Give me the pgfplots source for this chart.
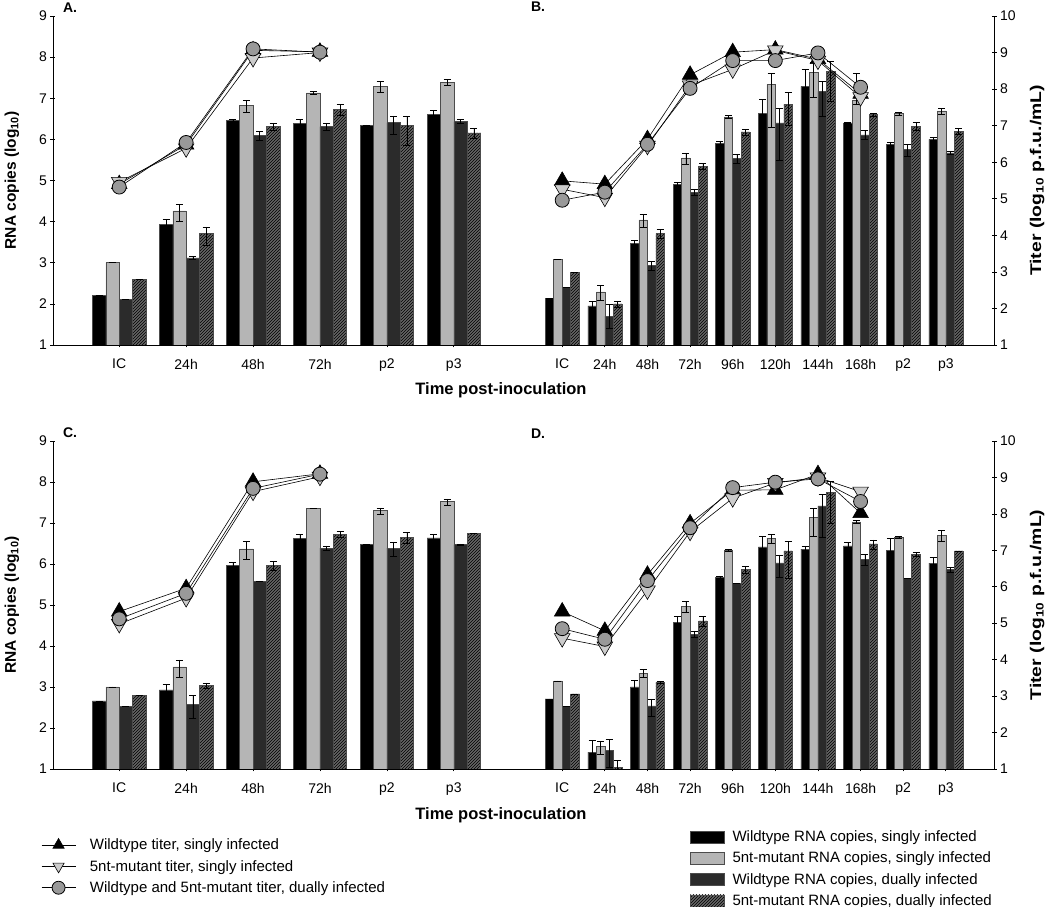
\documentclass[border=0pt]{standalone}
\usepackage{pgfplots}
\pgfplotsset{compat=1.18}
\usepackage{pgfplotstable}
\usetikzlibrary{patterns}
\usepackage{fontspec}
\setmainfont{Liberation Sans}

\definecolor{lgray}{gray}{0.71}
\definecolor{dgray}{gray}{0.17}
\definecolor{hgray}{gray}{0.40}
\definecolor{circgray}{gray}{0.60}
\definecolor{trigray}{gray}{0.80}

% RNA copies (log10): value, upper error, lower error for each bar series
\pgfplotstableread{
x wy wp wm my mp mm dy dp dm hy hp hm
0 2.21 0 0 3.00 0 0 2.11 0 0 2.60 0 0
1 3.94 0.11 0.11 4.26 0.16 0.26 3.12 0.03 0.03 3.71 0.16 0.28
2 6.47 0.02 0.02 6.82 0.13 0.15 6.10 0.10 0.12 6.31 0.08 0.09
3 6.38 0.10 0.12 7.13 0.03 0.03 6.31 0.08 0.09 6.73 0.13 0.15
4 6.34 0.01 0.01 7.28 0.12 0.14 6.41 0.16 0.29 6.34 0.23 0.48
5 6.61 0.10 0.12 7.39 0.07 0.08 6.43 0.05 0.05 6.16 0.12 0.14
}\tabA
\pgfplotstableread{
x wy wp wm my mp mm dy dp dm hy hp hm
0 2.13 0 0 3.08 0 0 2.40 0 0 2.77 0 0
1 1.95 0.12 0.12 2.29 0.15 0.20 1.70 0.29 0.30 2.00 0.07 0.08
2 3.48 0.07 0.07 4.04 0.14 0.18 2.93 0.10 0.12 3.71 0.10 0.12
3 4.90 0.06 0.07 5.55 0.12 0.15 4.71 0.07 0.08 5.35 0.07 0.08
4 5.90 0.06 0.07 6.55 0.04 0.04 5.53 0.10 0.12 6.18 0.07 0.08
5 6.63 0.35 0.90 7.34 0.27 1.04 6.40 0.35 0.90 6.85 0.30 0.50
6 7.29 0.41 0.60 7.63 0.25 0.60 7.17 0.23 0.61 7.66 0.24 0.73
7 6.40 0.02 0.02 6.95 0.65 0.10 6.11 0.10 0.12 6.60 0.04 0.04
8 5.88 0.06 0.07 6.63 0.04 0.04 5.75 0.13 0.16 6.32 0.09 0.10
9 6.00 0.06 0.07 6.69 0.06 0.07 5.67 0.04 0.04 6.20 0.06 0.07
}\tabB
\pgfplotstableread{
x wy wp wm my mp mm dy dp dm hy hp hm
0 2.66 0 0 3.00 0 0 2.53 0 0 2.79 0 0
1 2.93 0.14 0.20 3.49 0.17 0.25 2.58 0.22 0.35 3.04 0.06 0.07
2 5.97 0.06 0.07 6.37 0.19 0.25 5.58 0.01 0.01 5.97 0.10 0.12
3 6.63 0.10 0.12 7.35 0 0 6.39 0.05 0.05 6.73 0.06 0.07
4 6.47 0.01 0.01 7.30 0.07 0.08 6.39 0.15 0.20 6.65 0.13 0.15
5 6.64 0.08 0.09 7.52 0.07 0.08 6.47 0.02 0.02 6.75 0 0
}\tabC
\pgfplotstableread{
x wy wp wm my mp mm dy dp dm hy hp hm
0 2.71 0 0 3.15 0 0 2.53 0 0 2.83 0 0
1 1.41 0.28 0.40 1.55 0.12 0.20 1.45 0.28 0.40 1.04 0.17 0.30
2 3.00 0.16 0.20 3.34 0.08 0.10 2.54 0.17 0.26 3.11 0.02 0.02
3 4.58 0.14 0.18 4.96 0.12 0.15 4.29 0.08 0.09 4.61 0.11 0.13
4 5.67 0.04 0.04 6.34 0.02 0.02 5.52 0 0 5.87 0.08 0.09
5 6.42 0.26 0.40 6.63 0.10 0.13 6.03 0.19 0.36 6.32 0.24 0.67
6 6.36 0.06 0.07 7.13 0.23 0.45 7.42 0.28 0.76 7.75 0.27 0.75
7 6.44 0.08 0.09 7.03 0.04 0.04 6.12 0.12 0.15 6.49 0.10 0.12
8 6.34 0.29 0.40 6.65 0.02 0.02 5.65 0 0 6.24 0.05 0.05
9 6.02 0.14 0.18 6.69 0.12 0.14 5.86 0.06 0.07 6.32 0 0
}\tabD

% Titers (log10 p.f.u./mL)
\pgfplotstableread{
x wt mut dual
0 5.40 5.46 5.32
1 6.48 6.38 6.54
2 9.06 8.85 9.10
3 9.02 9.00 9.01
}\titA
\pgfplotstableread{
x wt mut dual
0 5.49 5.26 4.96
1 5.40 5.03 5.18
2 6.63 6.45 6.49
3 8.39 8.10 8.02
4 9.01 8.54 8.78
5 9.08 9.06 8.78
6 8.82 8.78 8.99
7 7.87 7.78 8.05
}\titB
\pgfplotstableread{
x wt mut dual
0 5.32 4.98 5.12
1 5.96 5.69 5.82
2 8.88 8.61 8.70
3 9.10 9.02 9.09
}\titC
\pgfplotstableread{
x wt mut dual
0 5.32 4.59 4.85
1 4.79 4.36 4.56
2 6.33 5.90 6.17
3 7.74 7.51 7.62
4 8.65 8.43 8.72
5 8.66 8.85 8.87
6 9.09 9.00 8.96
7 8.02 8.61 8.34
}\titD

\pgfplotsset{
  panel/.style={scale only axis, anchor=south west, enlargelimits=false,
    tick align=outside, major tick length=5pt,
    tick style={black, line width=0.7pt},
    axis line style={black, line width=0.8pt},
    tick label style={font=\fontsize{14}{16}\selectfont},
    xticklabel style={yshift=-8pt},
    /pgf/number format/assume math mode=true},
  noarrows/.style={every outer x axis line/.append style={-}, every outer y axis line/.append style={-},
    every inner x axis line/.append style={-}, every inner y axis line/.append style={-}},
  narrow/.style={width=467pt, xmin=-0.99, xmax=5.99, xtick={0,...,5},
    xticklabels={IC,24h,48h,72h,p2,p3}},
  wide/.style={width=474pt, xmin=-0.99, xmax=10.13, xtick={0,...,9},
    xticklabels={IC,24h,48h,72h,96h,120h,144h,168h,p2,p3}},
  rna/.style={ybar, bar width=0.2, bar shift=0pt, draw=black!70, line width=0.5pt,
    /pgfplots/error bars/y dir=both, /pgfplots/error bars/y explicit,
    /pgfplots/error bars/error bar style={black, line width=0.6pt},
    /pgfplots/error bars/error mark options={rotate=90, mark size=3.5pt, black, line width=0.6pt}},
  hatch/.style={fill=hgray, postaction={pattern=north east lines, pattern color=black}},
  tline/.style={black, line width=0.6pt},
  wt/.style={tline, mark=triangle*, mark size=9pt, mark options={fill=black, draw=black, line width=0.6pt}},
  mut/.style={tline, mark=triangle*, mark size=9pt, mark options={rotate=180, fill=trigray, draw=black, line width=0.6pt}},
  dual/.style={tline, mark=*, mark size=7pt, mark options={fill=circgray, draw=black, line width=0.8pt}},
  titlegend/.style={legend image code/.code={\draw[mark repeat=2, mark phase=2, ##1, mark size=6.5pt] plot coordinates {(0pt,0pt) (17pt,0pt) (34pt,0pt)}; \path (46pt,0pt);}},
  rnaylabel/.style={ylabel={\textbf{RNA copies (log\textsubscript{10})}},
    every axis y label/.style={at={(axis description cs:-0.088,0.5)}, anchor=center, rotate=90, font=\fontsize{15.5}{17}\selectfont}},
  titylabel/.style={ylabel={\scalebox{1.25}[1]{\textbf{Titer (log\textsubscript{10} p.f.u./mL)}}},
    every axis y label/.style={at={(axis description cs:1.091,0.5)}, anchor=center, rotate=90, font=\fontsize{15.5}{17}\selectfont}},
}

\newcommand{\rnabars}[1]{%
  \addplot[rna, fill=black] table[x expr=\thisrow{x}-0.3, y=wy, y error plus=wp, y error minus=wm]{#1};
  \addplot[rna, fill=lgray] table[x expr=\thisrow{x}-0.1, y=my, y error plus=mp, y error minus=mm]{#1};
  \addplot[rna, fill=dgray] table[x expr=\thisrow{x}+0.1, y=dy, y error plus=dp, y error minus=dm]{#1};
  \addplot[rna, hatch] table[x expr=\thisrow{x}+0.3, y=hy, y error plus=hp, y error minus=hm]{#1};
}
\newcommand{\titers}[1]{%
  \addplot[wt] table[x=x, y=wt]{#1};
  \addplot[mut] table[x=x, y=mut]{#1};
  \addplot[dual] table[x=x, y=dual]{#1};
}

\begin{document}
\begin{tikzpicture}
\useasboundingbox (0,0) rectangle (1050pt,907pt);

% ---------------- Row 1 ----------------
\begin{axis}[panel, narrow, at={(53pt,562pt)}, height=329pt, ymin=1, ymax=9, ytick={1,...,9},
  axis x line=bottom, axis y line=left, noarrows, rnaylabel]
  \rnabars{\tabA}
\end{axis}
\begin{axis}[panel, narrow, at={(53pt,562pt)}, height=329pt, ymin=1, ymax=10, hide axis, clip=false]
  \titers{\titA}
\end{axis}
\begin{axis}[panel, wide, at={(520pt,562pt)}, height=329pt, ymin=1, ymax=9,
  axis x line=bottom, axis y line=none, noarrows]
  \rnabars{\tabB}
\end{axis}
\begin{axis}[panel, wide, at={(520pt,562pt)}, height=329pt, ymin=1, ymax=10, ytick={1,...,10},
  axis x line=none, axis y line=right, noarrows, clip=false, titylabel]
  \titers{\titB}
\end{axis}

% ---------------- Row 2 ----------------
\begin{axis}[panel, narrow, at={(53pt,138pt)}, height=328pt, ymin=1, ymax=9, ytick={1,...,9},
  axis x line=bottom, axis y line=left, noarrows, rnaylabel]
  \rnabars{\tabC}
\end{axis}
\begin{axis}[panel, narrow, at={(53pt,138pt)}, height=328pt, ymin=1, ymax=10, hide axis, clip=false,
  titlegend, legend cell align=left,
  legend style={at={(axis description cs:-0.032,-0.200)}, anchor=north west, draw=none, fill=none,
    font=\fontsize{15}{17}\selectfont, row sep=5pt}]
  \titers{\titC}
  \legend{{Wildtype titer, singly infected},{5nt-mutant titer, singly infected},{Wildtype and 5nt-mutant titer, dually infected}}
\end{axis}
\begin{axis}[panel, wide, at={(520pt,138pt)}, height=328pt, ymin=1, ymax=9,
  axis x line=bottom, axis y line=none, noarrows,
  legend cell align=left,
  legend image code/.code={\draw[#1] (0pt,-6pt) rectangle (34pt,6pt); \path (40pt,0pt);},
  legend style={at={(axis description cs:0.352,-0.175)}, anchor=north west, draw=none, fill=none,
    font=\fontsize{15}{17}\selectfont, row sep=5pt}]
  \rnabars{\tabD}
  \legend{{Wildtype RNA copies, singly infected},{5nt-mutant RNA copies, singly infected},{Wildtype RNA copies, dually infected},{5nt-mutant RNA copies, dually infected}}
\end{axis}
\begin{axis}[panel, wide, at={(520pt,138pt)}, height=328pt, ymin=1, ymax=10, ytick={1,...,10},
  axis x line=none, axis y line=right, noarrows, clip=false, titylabel]
  \titers{\titD}
\end{axis}

% panel letters and x titles
\node[font=\bfseries\fontsize{14}{16}\selectfont] at (70pt,899pt) {A.};
\node[font=\bfseries\fontsize{14}{16}\selectfont] at (538pt,900pt) {B.};
\node[font=\bfseries\fontsize{14}{16}\selectfont] at (70pt,474pt) {C.};
\node[font=\bfseries\fontsize{14}{16}\selectfont] at (538pt,473pt) {D.};
\node[font=\bfseries\fontsize{16.5}{18}\selectfont] at (501pt,517pt) {Time post-inoculation};
\node[font=\bfseries\fontsize{16.5}{18}\selectfont] at (501pt,92pt) {Time post-inoculation};
\end{tikzpicture}
\end{document}
